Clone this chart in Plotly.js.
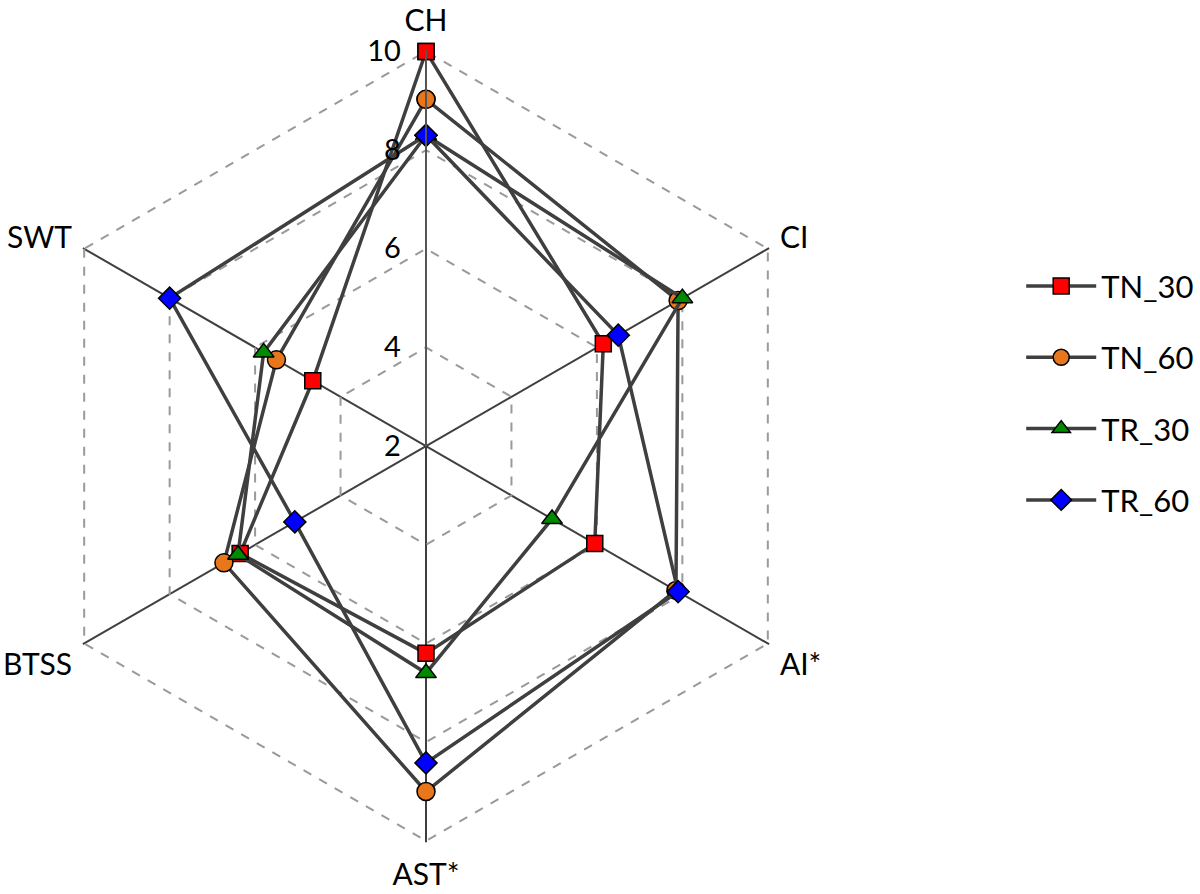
<!DOCTYPE html>
<html>
<head>
<meta charset="utf-8">
<script src="https://cdn.plot.ly/plotly-3.0.1.min.js"></script>
<style>html,body{margin:0;padding:0;background:#fff;}#chart{width:1200px;height:894px;}</style>
</head>
<body>
<div id="chart"></div>
<script>
const categories = ["CH", "CI", "AI*", "AST*", "BTSS", "SWT"];
const TN_30 = [10.0, 6.15, 5.95, 6.2, 6.35, 4.65];
const TN_60 = [9.03, 7.9, 7.85, 9.0, 6.73, 5.5];
const TR_30 = [8.3, 8.0, 4.95, 6.6, 6.4, 5.8];
const TR_60 = [8.3, 6.5, 7.9, 8.42, 5.07, 8.0];
const radialTicks = [2, 4, 6, 8, 10];

const seriesNames = ["TN_30", "TN_60", "TR_30", "TR_60"];
const seriesValues = [TN_30, TN_60, TR_30, TR_60];
const markerSymbols = ["square", "circle", "triangle-up", "diamond"];
const markerColors = ["#ff0000", "#e8761a", "#008a00", "#0000ff"];
const markerSizes = [16, 18, 18, 17];

const close = a => a.concat([a[0]]);

const traces = seriesNames.map((name, i) => ({
  type: "scatterpolar",
  mode: "lines+markers",
  name: name,
  legendgroup: name,
  r: close(seriesValues[i]),
  theta: close(categories),
  line: {color: "#3f3f3f", width: 3.5},
  marker: {symbol: markerSymbols[i], color: markerColors[i], size: markerSizes[i],
           line: {color: "#000000", width: 1.5}},
  cliponaxis: false
}));

const font = {family: "Lato, 'Liberation Sans', sans-serif", color: "#000"};

const layout = {
  width: 1200, height: 894,
  margin: {l: 0, r: 0, t: 0, b: 0},
  paper_bgcolor: "#ffffff",
  font: Object.assign({size: 30}, font),
  showlegend: true,
  legend: {x: 0.851, y: 0.56, xanchor: "left", yanchor: "middle",
           font: Object.assign({size: 31}, font), tracegroupgap: 28,
           itemwidth: 70, itemsizing: "trace",
           bgcolor: "rgba(0,0,0,0)"},
  polar: {
    domain: {x: [0.0225, 0.6875], y: [0.0578, 0.9441]},
    bgcolor: "#ffffff",
    gridshape: "linear",
    radialaxis: {
      range: [2, 10.03], tickvals: radialTicks, ticktext: radialTicks.map(String),
      angle: 90, side: "counterclockwise", tickangle: 90,
      showline: true, linecolor: "#555555", linewidth: 2,
      showgrid: true, gridcolor: "#9a9a9a", gridwidth: 2, griddash: "dash",
      ticks: "outside", ticklen: 14, tickcolor: "rgba(0,0,0,0)",
      tickfont: Object.assign({size: 29}, font)
    },
    angularaxis: {
      type: "category", categoryarray: categories,
      direction: "clockwise", rotation: 90,
      showline: false,
      showgrid: true, gridcolor: "#3f3f3f", gridwidth: 2,
      ticks: "outside", ticklen: 6, tickcolor: "rgba(0,0,0,0)",
      tickfont: Object.assign({size: 30}, font)
    }
  }
};

Plotly.newPlot("chart", traces, layout, {displayModeBar: false, staticPlot: true});
</script>
</body>
</html>
